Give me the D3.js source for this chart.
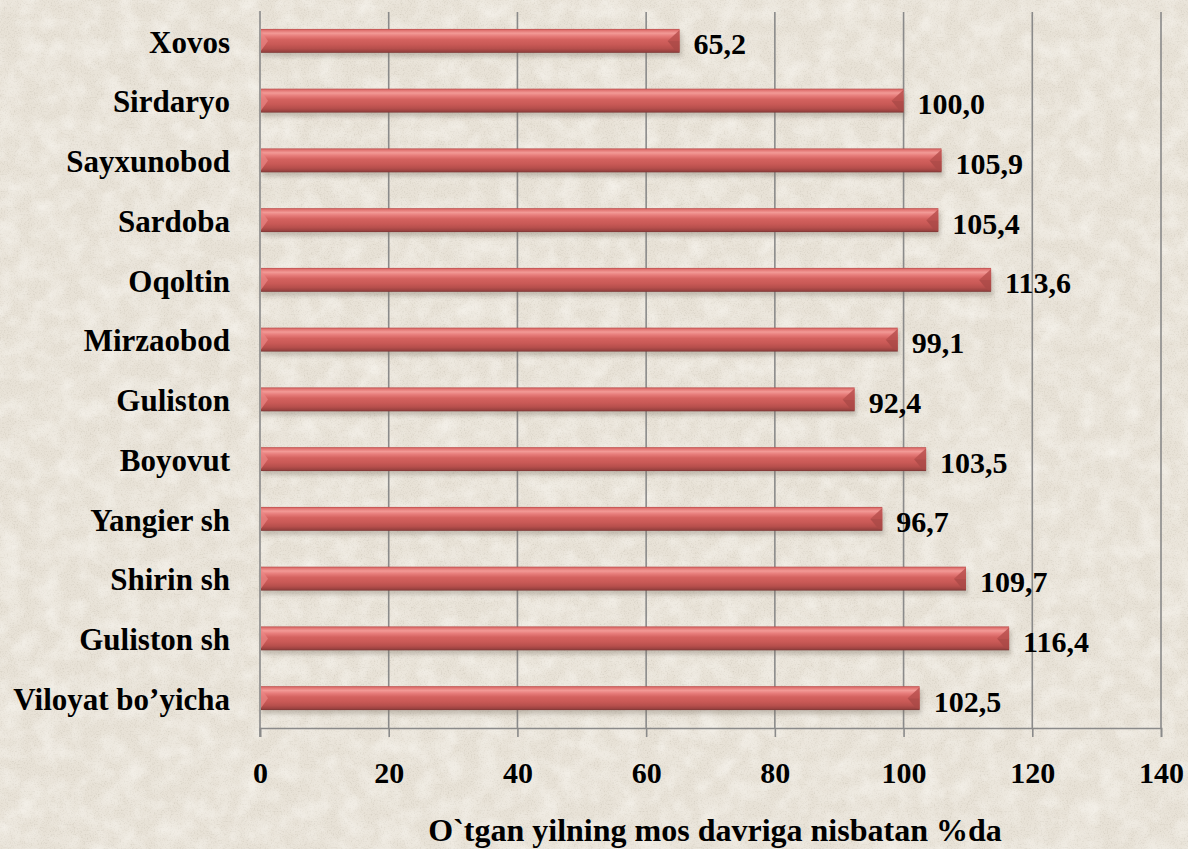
<!DOCTYPE html>
<html>
<head>
<meta charset="utf-8">
<script src="https://cdn.jsdelivr.net/npm/d3@7"></script>
<style>
  html, body { margin: 0; padding: 0; background: #e8e2d7; }
  svg { display: block; }
</style>
</head>
<body>
<div id="chartDiv"></div>
<script>
var W = 1188
var H = 849
var FONT = "'Liberation Serif', serif"

// data, top to bottom as drawn
var districts = ["Xovos", "Sirdaryo", "Sayxunobod", "Sardoba", "Oqoltin", "Mirzaobod",
                 "Guliston", "Boyovut", "Yangier sh", "Shirin sh", "Guliston sh", "Viloyat bo\u2019yicha"]
var values = [65.2, 100.0, 105.9, 105.4, 113.6, 99.1, 92.4, 103.5, 96.7, 109.7, 116.4, 102.5]
var xTicks = [0, 20, 40, 60, 80, 100, 120, 140]
var axisTitle = "O`tgan yilning mos davriga nisbatan %da"

var plot = {left: 260, right: 1161, top: 11, bottom: 728}

var svg = d3.select("#chartDiv")
    .append("svg")
    .attr("width", W)
    .attr("height", H)

var defs = svg.append("defs")

// paper texture: fine grain + faint mottling
var paper = defs.append("filter")
    .attr("id", "paper")
    .attr("x", 0).attr("y", 0).attr("width", "100%").attr("height", "100%")
paper.append("feTurbulence")
    .attr("type", "fractalNoise")
    .attr("baseFrequency", "0.7")
    .attr("numOctaves", 2)
    .attr("seed", 3)
    .attr("result", "noise")
paper.append("feColorMatrix")
    .attr("in", "noise")
    .attr("type", "matrix")
    .attr("values", "0 0 0 0 0.62  0 0 0 0 0.58  0 0 0 0 0.5  0 0 0 -1.6 0.82")
var paper2 = defs.append("filter")
    .attr("id", "paper2")
    .attr("x", 0).attr("y", 0).attr("width", "100%").attr("height", "100%")
paper2.append("feTurbulence")
    .attr("type", "fractalNoise")
    .attr("baseFrequency", "0.05")
    .attr("numOctaves", 3)
    .attr("seed", 11)
paper2.append("feColorMatrix")
    .attr("type", "matrix")
    .attr("values", "0 0 0 0 1  0 0 0 0 0.99  0 0 0 0 0.96  0 0 0 0.9 -0.32")

// bar body gradient
var grad = defs.append("linearGradient")
    .attr("id", "barGrad")
    .attr("x1", 0).attr("y1", 0).attr("x2", 0).attr("y2", 1)
var stops = [[0, "#b84c4a"], [0.06, "#e07270"], [0.18, "#f29a96"], [0.3, "#e77c7a"],
             [0.45, "#d4625f"], [0.65, "#c95956"], [0.82, "#b64f4c"], [0.94, "#9a4240"], [1, "#7a3634"]]
stops.forEach(function(s) {
    grad.append("stop").attr("offset", s[0]).attr("stop-color", s[1])
})

var shadow = defs.append("filter").attr("id", "shadow")
    .attr("x", "-5%").attr("y", "-30%").attr("width", "110%").attr("height", "180%")
shadow.append("feGaussianBlur").attr("stdDeviation", 2.2)

svg.append("rect")
    .attr("width", W).attr("height", H)
    .attr("fill", "#e8e2d7")
svg.append("rect")
    .attr("width", W).attr("height", H)
    .attr("filter", "url(#paper)")
svg.append("rect")
    .attr("width", W).attr("height", H)
    .attr("filter", "url(#paper2)")

// scales
var xScale = d3.scaleLinear().domain([0, 140]).range([plot.left, plot.right])
var yScale = d3.scaleBand()
    .domain(districts)
    .range([plot.top, plot.bottom])
    .paddingInner(0.6)
    .paddingOuter(0.3)

// gridlines
svg.append("g")
    .selectAll("line")
    .data(xTicks.slice(1))
    .enter()
    .append("line")
    .attr("x1", function(d) { return xScale(d) })
    .attr("x2", function(d) { return xScale(d) })
    .attr("y1", plot.top + 1)
    .attr("y2", plot.bottom)
    .attr("stroke", "#8a8a8a")
    .attr("stroke-width", 1.6)

// x axis
var xAxis = d3.axisBottom(xScale)
    .tickValues(xTicks)
    .tickSize(9)
    .tickPadding(25)
    .tickFormat(d3.format("d"))

var xG = svg.append("g")
    .attr("transform", "translate(0," + plot.bottom + ")")
    .call(xAxis)
xG.attr("font-family", null)
xG.select(".domain").attr("stroke", "#8a8a8a").attr("stroke-width", 1.6)
xG.selectAll(".tick line").attr("stroke", "#8a8a8a").attr("stroke-width", 1.6)
xG.selectAll(".tick text")
    .style("font-family", FONT)
    .style("font-weight", "bold")
    .style("font-size", "30px")
    .attr("fill", "#000")

// y axis line
svg.append("line")
    .attr("x1", plot.left).attr("x2", plot.left)
    .attr("y1", plot.top).attr("y2", plot.bottom + 9)
    .attr("stroke", "#8a8a8a")
    .attr("stroke-width", 1.6)

// category labels
svg.append("g")
    .selectAll("text")
    .data(districts)
    .enter()
    .append("text")
    .attr("x", plot.left - 30)
    .attr("y", function(d) { return yScale(d) + yScale.bandwidth() / 2 + 1 })
    .attr("dy", "0.35em")
    .attr("text-anchor", "end")
    .style("font-family", FONT)
    .style("font-weight", "bold")
    .style("font-size", "31px")
    .text(function(d) { return d })

// bars
var rows = districts.map(function(d, i) { return {name: d, value: values[i]} })
var barsG = svg.append("g")
var bh = yScale.bandwidth()

barsG.selectAll(".barShadow")
    .data(rows)
    .enter()
    .append("rect")
    .attr("class", "barShadow")
    .attr("x", xScale(0) + 2)
    .attr("y", function(d) { return yScale(d.name) + 4 })
    .attr("width", function(d) { return xScale(d.value) - xScale(0) })
    .attr("height", bh)
    .attr("fill", "#7a6f62")
    .attr("opacity", 0.35)
    .attr("filter", "url(#shadow)")

barsG.selectAll(".bar")
    .data(rows)
    .enter()
    .append("rect")
    .attr("class", "bar")
    .attr("x", xScale(0) + 1)
    .attr("y", function(d) { return yScale(d.name) })
    .attr("width", function(d) { return xScale(d.value) - xScale(0) - 1 })
    .attr("height", bh)
    .attr("fill", "url(#barGrad)")

// bevelled right end
barsG.selectAll(".capTop")
    .data(rows)
    .enter()
    .append("polygon")
    .attr("class", "capTop")
    .attr("points", function(d) {
        var x = xScale(d.value), y = yScale(d.name)
        return [[x, y + 1], [x - 12, y + bh * 0.5], [x, y + bh * 0.5]].join(" ")
    })
    .attr("fill", "#b9504e")
    .attr("opacity", 0.85)
barsG.selectAll(".capBot")
    .data(rows)
    .enter()
    .append("polygon")
    .attr("class", "capBot")
    .attr("points", function(d) {
        var x = xScale(d.value), y = yScale(d.name)
        return [[x - 12, y + bh * 0.5], [x, y + bh * 0.5], [x, y + bh - 1], [x - 4, y + bh - 2]].join(" ")
    })
    .attr("fill", "#a94846")
    .attr("opacity", 0.8)

// small highlight on the left end
barsG.selectAll(".capLeft")
    .data(rows)
    .enter()
    .append("polygon")
    .attr("class", "capLeft")
    .attr("points", function(d) {
        var x = xScale(0) + 1, y = yScale(d.name)
        return [[x, y + 2], [x + 7, y + bh * 0.5], [x, y + bh - 2]].join(" ")
    })
    .attr("fill", "#e98886")
    .attr("opacity", 0.7)

// value labels
var fmt = d3.format(".1f")
svg.append("g")
    .selectAll("text")
    .data(rows)
    .enter()
    .append("text")
    .attr("x", function(d) { return xScale(d.value) + 14 })
    .attr("y", function(d) { return yScale(d.name) + bh / 2 + 3 })
    .attr("dy", "0.35em")
    .style("font-family", FONT)
    .style("font-weight", "bold")
    .style("font-size", "30px")
    .text(function(d) { return fmt(d.value).replace(".", ",") })

// axis title
svg.append("text")
    .attr("x", 715)
    .attr("y", 841)
    .attr("text-anchor", "middle")
    .style("font-family", FONT)
    .style("font-weight", "bold")
    .style("font-size", "32px")
    .text(axisTitle)
</script>
</body>
</html>
